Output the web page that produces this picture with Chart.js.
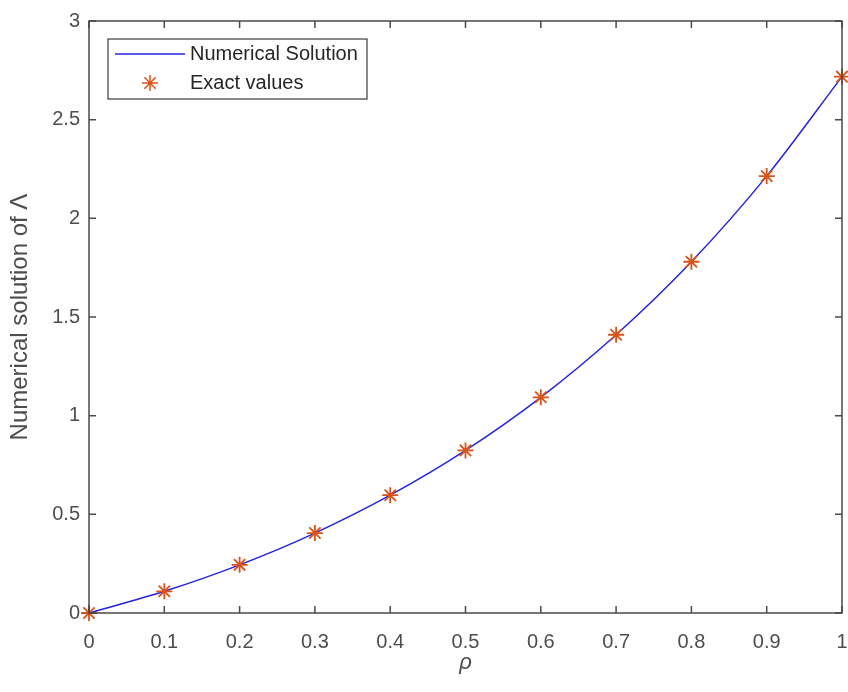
<!DOCTYPE html>
<html lang="en">
<head>
    <meta charset="UTF-8">
    <title>Numerical solution of Lambda</title>
    <style>
        body {
            margin: 0;
            background: #ffffff;
        }
        #chart {
            display: block;
        }
    </style>
</head>
<body>
    <canvas id="chart" width="848" height="692"></canvas>
    <script src="https://cdn.jsdelivr.net/npm/chart.js"></script>
    <script>
        // values
        const rho = [0, 0.1, 0.2, 0.3, 0.4, 0.5, 0.6, 0.7, 0.8, 0.9, 1];
        const numerical = [0, 0.11, 0.244, 0.405, 0.597, 0.824, 1.093, 1.41, 1.78, 2.214, 2.718];
        const exact = [0, 0.11, 0.244, 0.405, 0.597, 0.824, 1.093, 1.41, 1.78, 2.214, 2.718];
        const xTicks = [0, 0.1, 0.2, 0.3, 0.4, 0.5, 0.6, 0.7, 0.8, 0.9, 1];
        const yTicks = [0, 0.5, 1, 1.5, 2, 2.5, 3];

        const axisColor = '#4a4a4a';
        const lineColor = '#2424e0';
        const starColor = '#d95319';
        const tickColor = '#4d4d4d';
        const fontFamily = '"Liberation Sans", Arial, sans-serif';

        // MATLAB style box with inward ticks, x tick labels, and the legend inside the axes
        const matlabAxes = {
            id: 'matlabAxes',
            afterDatasetsDraw(chart) {
                const ctx = chart.ctx;
                const a = chart.chartArea;
                const xs = chart.scales.x;
                const ys = chart.scales.y;
                const tl = 7;
                ctx.save();
                ctx.strokeStyle = axisColor;
                ctx.lineWidth = 1.5;
                ctx.beginPath();
                xTicks.forEach(v => {
                    const px = xs.getPixelForValue(v);
                    ctx.moveTo(px, a.bottom); ctx.lineTo(px, a.bottom - tl);
                    ctx.moveTo(px, a.top); ctx.lineTo(px, a.top + tl);
                });
                yTicks.forEach(v => {
                    const py = ys.getPixelForValue(v);
                    ctx.moveTo(a.left, py); ctx.lineTo(a.left + tl, py);
                    ctx.moveTo(a.right, py); ctx.lineTo(a.right - tl, py);
                });
                ctx.stroke();
                ctx.strokeRect(a.left, a.top, a.right - a.left, a.bottom - a.top);

                // x tick labels (drawn here so they do not pad the plot area)
                ctx.fillStyle = tickColor;
                ctx.font = '20px ' + fontFamily;
                ctx.textAlign = 'center';
                ctx.textBaseline = 'middle';
                xTicks.forEach(v => {
                    ctx.fillText(String(v), xs.getPixelForValue(v), a.bottom + 29);
                });

                // legend
                const lx = a.left + 19, ly = a.top + 18, lw = 259, lh = 60;
                ctx.fillStyle = '#ffffff';
                ctx.fillRect(lx, ly, lw, lh);
                ctx.lineWidth = 1.2;
                ctx.strokeStyle = '#3a3a3a';
                ctx.strokeRect(lx, ly, lw, lh);

                const row1 = ly + 15, row2 = ly + 44;
                ctx.strokeStyle = lineColor;
                ctx.lineWidth = 1.5;
                ctx.beginPath();
                ctx.moveTo(lx + 7, row1); ctx.lineTo(lx + 77, row1);
                ctx.stroke();
                ctx.strokeStyle = starColor;
                ctx.fillStyle = starColor;
                Chart.helpers.drawPoint(ctx, {
                    pointStyle: 'star', radius: 8, borderWidth: 1.8
                }, lx + 42, row2);

                ctx.fillStyle = '#262626';
                ctx.textAlign = 'left';
                ctx.fillText(chart.data.datasets[0].label, lx + 82, row1);
                ctx.fillText(chart.data.datasets[1].label, lx + 82, row2);
                ctx.restore();
            }
        };

        new Chart(document.getElementById('chart'), {
            type: 'line',
            data: {
                datasets: [{
                    label: 'Numerical Solution',
                    data: rho.map((r, i) => ({ x: r, y: numerical[i] })),
                    borderColor: lineColor,
                    borderWidth: 1.5,
                    pointRadius: 0,
                    cubicInterpolationMode: 'monotone',
                    order: 2
                }, {
                    label: 'Exact values',
                    data: rho.map((r, i) => ({ x: r, y: exact[i] })),
                    showLine: false,
                    pointStyle: 'star',
                    pointRadius: 8,
                    borderWidth: 1.8,
                    borderColor: starColor,
                    backgroundColor: starColor,
                    order: 1
                }]
            },
            options: {
                responsive: false,
                animation: false,
                clip: false,
                layout: {
                    autoPadding: false,
                    padding: { top: 19, right: 6, left: 0, bottom: 0 }
                },
                plugins: {
                    legend: { display: false },
                    tooltip: { enabled: false }
                },
                scales: {
                    x: {
                        type: 'linear',
                        min: 0,
                        max: 1,
                        afterBuildTicks: s => { s.ticks = xTicks.map(v => ({ value: v })); },
                        afterFit: s => { s.height = 79; },
                        grid: { display: false, drawTicks: false },
                        border: { display: false },
                        ticks: { display: false },
                        title: {
                            display: true,
                            text: 'ρ',
                            color: tickColor,
                            font: { family: fontFamily, size: 22, style: 'italic' },
                            padding: { top: 0, bottom: 16 }
                        }
                    },
                    y: {
                        min: 0,
                        max: 3,
                        afterBuildTicks: s => { s.ticks = yTicks.map(v => ({ value: v })); },
                        afterFit: s => { s.width = 89; },
                        grid: { display: false, drawTicks: false },
                        border: { display: false },
                        ticks: {
                            color: tickColor,
                            font: { family: fontFamily, size: 20 },
                            padding: 9,
                            autoSkip: false,
                            callback: v => String(v)
                        },
                        title: {
                            display: true,
                            text: 'Numerical solution of Λ',
                            color: tickColor,
                            font: { family: fontFamily, size: 24 },
                            padding: { top: 6, bottom: 0 }
                        }
                    }
                }
            },
            plugins: [matlabAxes]
        });
    </script>
</body>
</html>
